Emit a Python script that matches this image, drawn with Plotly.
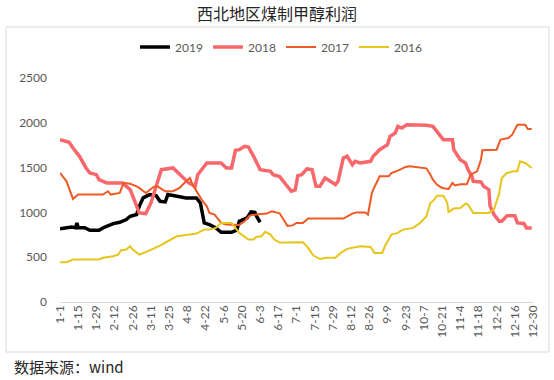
import datetime as dt
import plotly.graph_objects as go

# ---------------- data (day-of-year index, leap-year calendar) ----------------
tick_labels = ["1-1", "1-15", "1-29", "2-12", "2-26", "3-11", "3-25", "4-8", "4-22",
               "5-6", "5-20", "6-3", "6-17", "7-1", "7-15", "7-29", "8-12", "8-26",
               "9-9", "9-23", "10-7", "10-21", "11-4", "11-18", "12-2", "12-16", "12-30"]
y_ticks = [0, 500, 1000, 1500, 2000, 2500]

days_2019 = [0, 9, 12, 13, 14, 19, 23, 30, 34, 41, 46, 51, 54, 59, 61, 64, 69, 74, 77, 81,
             83, 90, 97, 105, 108, 110, 111, 115, 120, 124, 132, 136, 138, 144, 147, 150,
             151, 154]
vals_2019 = [816, 838, 830, 883, 830, 830, 801, 801, 834, 875, 890, 920, 957, 976, 1068,
             1162, 1199, 1187, 1124, 1117, 1199, 1180, 1162, 1162, 1106, 957, 883, 864,
             827, 778, 778, 801, 901, 938, 1005, 1000, 964, 890]

days_2018 = [0, 7, 10, 15, 20, 23, 28, 30, 36, 48, 54, 57, 61, 66, 70, 74, 78, 87, 92, 99,
             104, 106, 113, 124, 128, 132, 135, 138, 142, 145, 149, 154, 162, 164, 169,
             174, 178, 181, 183, 186, 190, 194, 197, 200, 204, 208, 212, 214, 218, 221,
             225, 227, 231, 239, 241, 246, 252, 254, 258, 260, 263, 267, 272, 282, 287,
             290, 295, 302, 303, 308, 312, 314, 317, 318, 324, 326, 330, 331, 334, 338,
             340, 344, 350, 352, 357, 359, 363]
vals_2018 = [1812, 1782, 1719, 1626, 1496, 1440, 1421, 1366, 1329, 1329, 1254, 1143, 994,
             987, 1106, 1291, 1477, 1496, 1421, 1329, 1291, 1421, 1552, 1552, 1496, 1496,
             1693, 1700, 1737, 1730, 1626, 1477, 1459, 1421, 1400, 1310, 1236, 1250, 1410,
             1421, 1485, 1477, 1291, 1291, 1384, 1347, 1310, 1347, 1607, 1626, 1533, 1570,
             1552, 1570, 1626, 1700, 1756, 1849, 1886, 1960, 1942, 1979, 1979, 1972, 1960,
             1905, 1812, 1812, 1700, 1589, 1552, 1477, 1403, 1347, 1340, 1291, 1254, 1068,
             976, 901, 901, 964, 964, 883, 876, 827, 827]

days_2017 = [0, 5, 10, 14, 33, 37, 39, 46, 49, 54, 59, 61, 66, 72, 75, 81, 87, 92, 97, 100,
             102, 106, 109, 113, 115, 119, 124, 128, 138, 142, 146, 151, 159, 163, 169,
             172, 175, 179, 182, 187, 191, 218, 225, 228, 235, 237, 240, 242, 246, 253,
             255, 260, 266, 269, 282, 285, 287, 290, 294, 299, 302, 304, 308, 313, 316,
             321, 324, 325, 329, 336, 339, 345, 348, 352, 358, 360, 363]
vals_2017 = [1440, 1347, 1150, 1199, 1199, 1236, 1199, 1217, 1329, 1320, 1291, 1273, 1217,
             1284, 1291, 1236, 1236, 1273, 1347, 1384, 1310, 1217, 1143, 1068, 994, 976,
             883, 864, 860, 901, 964, 976, 987, 1012, 990, 920, 850, 855, 883, 883, 931,
             931, 987, 1000, 1000, 976, 1217, 1284, 1403, 1403, 1440, 1466, 1507, 1515,
             1492, 1421, 1366, 1310, 1273, 1262, 1329, 1300, 1314, 1314, 1421, 1459, 1589,
             1693, 1693, 1700, 1812, 1830, 1868, 1979, 1979, 1931, 1931]

days_2016 = [0, 5, 10, 30, 33, 41, 45, 47, 51, 54, 56, 61, 66, 72, 77, 83, 90, 100, 105,
             111, 115, 120, 124, 132, 135, 138, 145, 149, 151, 155, 158, 162, 165, 169,
             174, 179, 187, 191, 195, 200, 205, 212, 216, 221, 226, 231, 239, 242, 248,
             250, 255, 260, 264, 272, 277, 282, 285, 287, 290, 295, 298, 299, 303, 308,
             312, 314, 318, 330, 334, 338, 340, 344, 349, 352, 354, 358, 363]
vals_2016 = [444, 444, 474, 474, 493, 511, 530, 578, 585, 622, 585, 530, 556, 593, 630,
             678, 734, 753, 764, 808, 808, 827, 883, 883, 827, 771, 697, 697, 727, 734,
             783, 753, 697, 664, 664, 667, 667, 604, 518, 481, 493, 493, 548, 593, 604,
             622, 615, 548, 548, 622, 753, 771, 808, 827, 883, 957, 1106, 1124, 1187,
             1187, 1106, 1005, 1043, 1049, 1098, 1087, 994, 994, 1031, 1217, 1384, 1440,
             1459, 1459, 1570, 1552, 1496]

series = [
    ("2019", days_2019, vals_2019, "#000000", 3.5),
    ("2018", days_2018, vals_2018, "#F8676B", 3.5),
    ("2017", days_2017, vals_2017, "#EE5A24", 2),
    ("2016", days_2016, vals_2016, "#E6C51C", 2),
]


def label_to_day(lbl):
    m, d = (int(p) for p in lbl.split("-"))
    return (dt.date(2016, m, d) - dt.date(2016, 1, 1)).days


tick_vals = [label_to_day(t) for t in tick_labels]

FONT = "Lato, 'Noto Sans CJK SC', sans-serif"

fig = go.Figure()
for name, xs, ys, color, w in series:
    fig.add_trace(go.Scatter(x=xs, y=ys, mode="lines", name=name,
                             line=dict(color=color, width=w)))

# geometry helpers (pixels -> paper)
L, R, T, B = 60, 21, 78, 78
W, H = 554, 380
pw, ph = W - L - R, H - T - B


def px(xp):
    return (xp - L) / pw


def py(yp):
    return (H - B - yp) / ph


fig.update_layout(
    width=W, height=H,
    margin=dict(l=L, r=R, t=T, b=B, autoexpand=False),
    paper_bgcolor="white", plot_bgcolor="white",
    font=dict(family=FONT, size=12, color="#595959"),
    title=dict(text="西北地区煤制甲醇利润", x=0.5, xanchor="center",
               y=1 - 14 / H, yanchor="middle", yref="container",
               font=dict(family="'Noto Sans CJK SC', sans-serif", size=16, color="#262626")),
    showlegend=True,
    legend=dict(orientation="h", x=px(281), xanchor="center", y=py(47), yanchor="middle",
                font=dict(size=12, color="#595959"), entrywidth=28, entrywidthmode="pixels",
                bgcolor="rgba(0,0,0,0)", traceorder="normal"),
    xaxis=dict(range=[0, 364], tickmode="array", tickvals=tick_vals, ticktext=tick_labels,
               tickangle=-90, showgrid=False, zeroline=False, showline=False,
               tickfont=dict(size=12, color="#595959"), ticks="", fixedrange=True),
    yaxis=dict(range=[0, 2500], tickmode="array", tickvals=y_ticks, showgrid=False,
               zeroline=True, zerolinecolor="#D9D9D9", zerolinewidth=1, showline=False,
               ticks="", ticklabelstandoff=12,
               tickfont=dict(size=12, color="#595959"), fixedrange=True),
    shapes=[dict(type="rect", xref="paper", yref="paper",
                 x0=px(6), x1=px(549), y0=py(352), y1=py(27),
                 line=dict(color="#D9D9D9", width=1), fillcolor="rgba(0,0,0,0)",
                 layer="below")],
    annotations=[dict(text="数据来源：wind", xref="paper", yref="paper",
                      x=px(12), y=py(366), xanchor="left", yanchor="middle", showarrow=False,
                      font=dict(family="'Noto Sans CJK SC', sans-serif", size=15,
                                color="#262626"))],
)

fig.write_html("out.html",
               config={"displayModeBar": False},
               post_script="document.body.style.margin='0';document.body.style.padding='0';")
